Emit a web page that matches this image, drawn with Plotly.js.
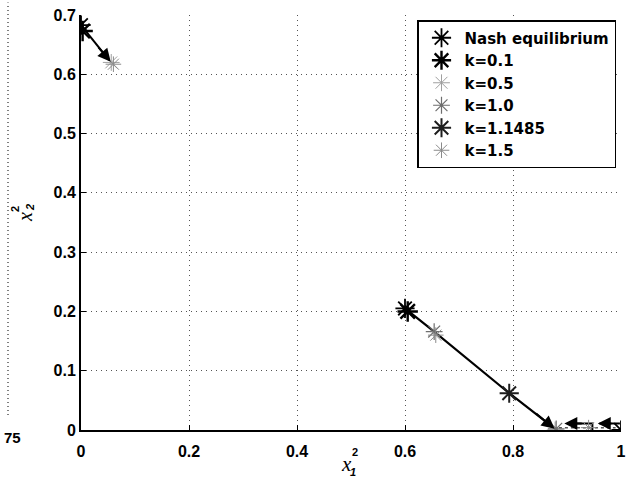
<!DOCTYPE html>
<html><head><meta charset="utf-8">
<script src="https://cdn.plot.ly/plotly-3.0.1.min.js"></script>
<style>body{margin:0;padding:0;background:#fff}#plot{width:631px;height:479px}</style>
</head><body><div id="plot"></div>
<script>
// Series names
var seriesNames = ["Nash equilibrium", "k=0.1", "k=0.5", "k=1.0", "k=1.1485", "k=1.5"];
// Marker points per series
var nashX = [0, 0.6, 1];
var nashY = [0.683, 0.205, 0];
var k01X = [0.003, 0.605];
var k01Y = [0.673, 0.2];
var k05X = [0.056, 0.878];
var k05Y = [0.62, 0.0];
var k10X = [0.654, 0.88];
var k10Y = [0.166, 0.002];
var k11485X = [0.793];
var k11485Y = [0.062];
var k15X = [0.06, 0.657, 0.94];
var k15Y = [0.617, 0.16, 0.004];
// Trajectory paths
var path1X = [0, 0.052];
var path1Y = [0.683, 0.624];
var path2X = [0.6, 0.654, 0.793, 0.872];
var path2Y = [0.205, 0.166, 0.062, 0.006];
var path3X = [0.998, 0.96];
var path3Y = [0.011, 0.011];
var path4X = [0.947, 0.947, 0.9];
var path4Y = [0.0, 0.011, 0.011];
var dashX = [0.885, 0.99];
var dashY = [0.004, 0.004];
// Arrow heads: [headX, headY, tailX, tailY]
var arrowHeads = [
  [0.055, 0.621, 0.03, 0.648],
  [0.877, 0.002, 0.84, 0.03],
  [0.957, 0.011, 0.985, 0.011],
  [0.895, 0.011, 0.93, 0.011]
];

var colors = ["#000000", "#000000", "#a0a0a0", "#6e6e6e", "#1e1e1e", "#8a8a8a"];
var widths = [1.8, 2.4, 1, 1.2, 2, 1];
var sizes = [16, 17, 14, 14, 16, 13];
var xs = [nashX, k01X, k05X, k10X, k11485X, k15X];
var ys = [nashY, k01Y, k05Y, k10Y, k11485Y, k15Y];

var traces = [];
function addPath(x, y, w, dash, col) {
  traces.push({x: x, y: y, mode: "lines", type: "scatter", showlegend: false,
    hoverinfo: "skip", line: {color: col || "#000", width: w, dash: dash || "solid"}});
}
addPath(path1X, path1Y, 2);
addPath(path2X, path2Y, 2.2);
addPath(path3X, path3Y, 2);
addPath(path4X, path4Y, 2);
addPath(dashX, dashY, 1.5, "dot", "#555");

for (var i = 0; i < seriesNames.length; i++) {
  traces.push({
    x: xs[i], y: ys[i], name: seriesNames[i], type: "scatter", mode: "markers",
    marker: {symbol: "asterisk-open", size: sizes[i], color: colors[i],
      line: {color: colors[i], width: widths[i]}}
  });
}

var annotations = arrowHeads.map(function (a) {
  return {x: a[0], y: a[1], ax: a[2], ay: a[3], xref: "x", yref: "y", axref: "x", ayref: "y",
    text: "", showarrow: true, arrowhead: 2, arrowsize: 1.3, arrowwidth: 2, arrowcolor: "#000"};
});
var tf = "Liberation Sans, Arial, sans-serif";
function lab(px, py, text, size, fam, angle) {
  annotations.push({xref: "paper", yref: "paper", x: (px - 81) / 540, y: (430 - py) / 415, text: text,
    xanchor: "center", yanchor: "middle", textangle: angle || 0,
    showarrow: false, font: {family: fam, size: size, color: "#000"}});
}
var serif = "Liberation Serif, serif";
// axis titles built from stacked pieces
lab(346, 464, "<i>x</i>", 21, serif);
lab(355, 452, "<b>2</b>", 11, tf);
lab(353, 472, "<i><b>1</b></i>", 11, tf);
lab(25, 217, "<i>x</i>", 20, serif, -90);
lab(15, 209, "<b>2</b>", 11, tf, -90);
lab(30, 208, "<i><b>2</b></i>", 11, tf, -90);
// stray label from neighbouring figure
lab(12, 437, "<b>75</b>", 15, tf);

var layout = {
  width: 631, height: 479,
  margin: {l: 81, r: 10, t: 15, b: 49},
  paper_bgcolor: "#fff", plot_bgcolor: "#fff",
  font: {family: tf, size: 15, color: "#000"},
  showlegend: true,
  legend: {x: (417 - 81) / 540, y: (430 - 20) / 415, xanchor: "left", yanchor: "top",
    bordercolor: "#000", borderwidth: 1.5, bgcolor: "#fff",
    font: {family: "DejaVu Sans, sans-serif", size: 15, color: "#000", weight: "bold"}, tracegroupgap: 0, itemwidth: 36},
  xaxis: {range: [0, 1], tickvals: [0, 0.2, 0.4, 0.6, 0.8, 1], ticktext: ["0", "0.2", "0.4", "0.6", "0.8", "1"],
    showgrid: true, gridcolor: "#555", griddash: "1px,4px", gridwidth: 1,
    showline: true, linecolor: "#000", linewidth: 2, zeroline: false, ticklabelstandoff: 6,
    ticks: "inside", ticklen: 5, tickcolor: "#000", tickfont: {family: tf, size: 16, weight: "bold"}},
  yaxis: {range: [0, 0.7], tickvals: [0, 0.1, 0.2, 0.3, 0.4, 0.5, 0.6, 0.7],
    ticktext: ["0", "0.1", "0.2", "0.3", "0.4", "0.5", "0.6", "0.7"],
    showgrid: true, gridcolor: "#555", griddash: "1px,4px", gridwidth: 1,
    showline: true, linecolor: "#000", linewidth: 2, zeroline: false,
    ticks: "inside", ticklen: 5, tickcolor: "#000", tickfont: {family: tf, size: 16, weight: "bold"}},
  shapes: [{type: "line", xref: "paper", yref: "paper", x0: (8 - 81) / 540, x1: (8 - 81) / 540,
    y0: (430 - 415) / 415, y1: 1.03, line: {color: "#555", width: 1.5, dash: "1px,3px"}}],
  annotations: annotations
};
Plotly.newPlot("plot", traces, layout, {displayModeBar: false, staticPlot: true});
</script></body></html>
